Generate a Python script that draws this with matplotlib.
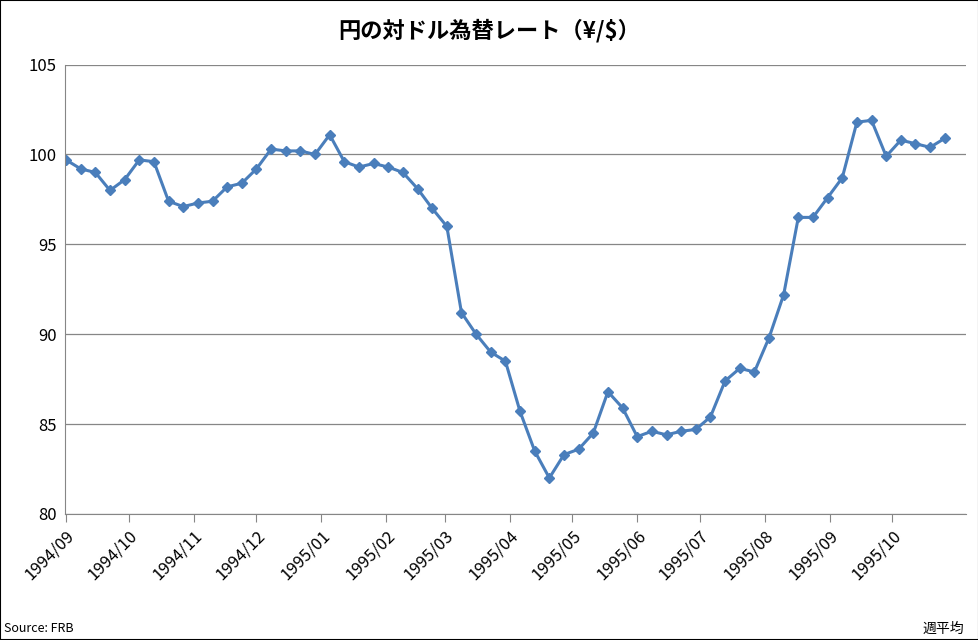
import matplotlib
matplotlib.use("Agg")
import matplotlib.pyplot as plt
import pandas as pd

plt.rcParams['font.family'] = ['Noto Sans CJK JP', 'DejaVu Sans']

start_date = "1994-09-01"
rates = [99.7, 99.2, 99.0, 98.0, 98.6, 99.7, 99.6, 97.4, 97.1, 97.3,
         97.4, 98.2, 98.4, 99.2, 100.3, 100.2, 100.2, 100.0, 101.1, 99.6,
         99.3, 99.5, 99.3, 99.0, 98.1, 97.0, 96.0, 91.2, 90.0, 89.0,
         88.5, 85.7, 83.5, 82.0, 83.3, 83.6, 84.5, 86.8, 85.9, 84.3,
         84.6, 84.4, 84.6, 84.7, 85.4, 87.4, 88.1, 87.9, 89.8, 92.2,
         96.5, 96.5, 97.6, 98.7, 101.8, 101.9, 99.9, 100.8, 100.6, 100.4,
         100.9]
dates = pd.date_range(start_date, periods=len(rates), freq="7D")
month_ticks = pd.date_range("1994-09-01", "1995-10-01", freq="MS")
month_labels = [d.strftime("%Y/%m") for d in month_ticks]

fig = plt.figure(figsize=(9.79, 6.40), dpi=100)
ax = fig.add_axes([0.0664, 0.197, 0.92, 0.702])
ax.plot(dates, rates, color="#4a7ebb", lw=2.2, marker="D", ms=5)
ax.set_ylim(80, 105)
ax.set_yticks([80, 85, 90, 95, 100, 105])
ax.set_xlim(dates[0] - pd.Timedelta(days=0.5), dates[-1] + pd.Timedelta(days=10))
ax.set_xticks(month_ticks)
ax.set_xticklabels(month_labels, rotation=45, ha="right", rotation_mode="anchor", fontsize=12)
ax.tick_params(axis="y", labelsize=12, length=0, pad=6)
ax.tick_params(axis="x", length=6, direction="out", color="#868686")
ax.grid(axis="y", color="#868686", lw=0.9)
for s in ["top", "right"]:
    ax.spines[s].set_visible(False)
ax.spines["left"].set_color("#868686")
ax.spines["bottom"].set_color("#868686")
ax.set_axisbelow(True)
fig.text(0.5, 0.952, "円の対ドル為替レート（¥/$）", ha="center", va="center",
         fontsize=16, fontweight="bold")
fig.text(0.004, 0.018, "Source: FRB", fontsize=9, ha="left", va="center")
fig.text(0.985, 0.018, "週平均", fontsize=10, ha="right", va="center")
fig.patches.append(plt.Rectangle((0, 0), 1, 1, transform=fig.transFigure,
                                 fill=False, ec="black", lw=1.5))
fig.savefig("out.png", dpi=100)
